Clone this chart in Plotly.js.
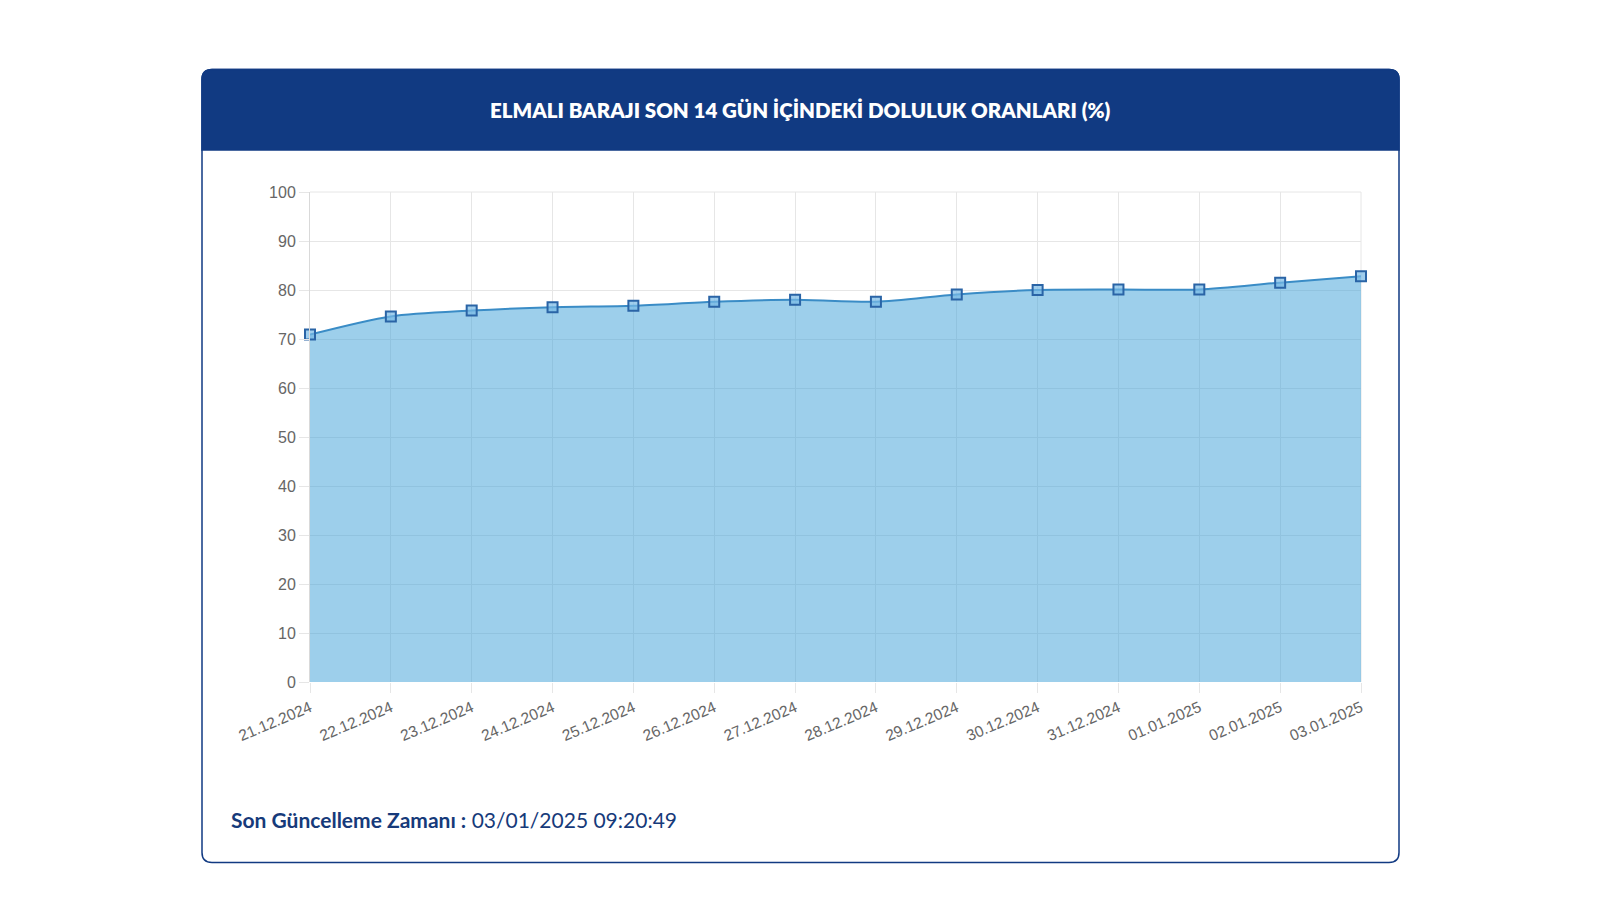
<!DOCTYPE html>
<html>
<head>
<meta charset="utf-8">
<script src="https://cdn.plot.ly/plotly-3.0.1.min.js"></script>
<style>
  html, body { margin: 0; padding: 0; background: #ffffff; }
  #chart { width: 1600px; height: 900px; }
</style>
</head>
<body>
<div id="chart"></div>
<script>
// ---- data ----
const dates = ["21.12.2024","22.12.2024","23.12.2024","24.12.2024","25.12.2024","26.12.2024","27.12.2024",
               "28.12.2024","29.12.2024","30.12.2024","31.12.2024","01.01.2025","02.01.2025","03.01.2025"];
const fillRates = [70.9, 74.6, 75.8, 76.5, 76.8, 77.6, 78.0, 77.6, 79.1, 80.0, 80.1, 80.1, 81.5, 82.8];
const yTicks = [0,10,20,30,40,50,60,70,80,90,100];
const titleText = "ELMALI BARAJI SON 14 GÜN İÇİNDEKİ DOLULUK ORANLARI (%)";
const footerLabel = "Son Güncelleme Zamanı :";
const footerValue = "03/01/2025 09:20:49";

// ---- layout helpers (pixel -> paper) ----
const W = 1600, H = 900;
const X = px => px / W;
const Y = py => 1 - py / H;
function roundRectPath(x0, y0, x1, y1, rt, rb) {
  return "M " + X(x0 + rt) + "," + Y(y0) +
    " L " + X(x1 - rt) + "," + Y(y0) +
    " Q " + X(x1) + "," + Y(y0) + " " + X(x1) + "," + Y(y0 + rt) +
    " L " + X(x1) + "," + Y(y1 - rb) +
    " Q " + X(x1) + "," + Y(y1) + " " + X(x1 - rb) + "," + Y(y1) +
    " L " + X(x0 + rb) + "," + Y(y1) +
    " Q " + X(x0) + "," + Y(y1) + " " + X(x0) + "," + Y(y1 - rb) +
    " L " + X(x0) + "," + Y(y0 + rt) +
    " Q " + X(x0) + "," + Y(y0) + " " + X(x0 + rt) + "," + Y(y0) + " Z";
}

const navy = "#113a82";

const trace = {
  type: "scatter",
  mode: "lines+markers",
  x: dates,
  y: fillRates,
  fill: "tozeroy",
  fillcolor: "rgba(60,160,215,0.5)",
  line: { color: "#3a8cc6", width: 2, shape: "spline", smoothing: 0.8 },
  marker: { symbol: "square", size: 10, color: "rgba(120,185,230,0.7)",
            line: { color: "#2a64a6", width: 2 } },
  hoverinfo: "x+y",
  cliponaxis: false
};

const layout = {
  width: W, height: H,
  margin: { l: 0, r: 0, t: 0, b: 0 },
  paper_bgcolor: "#ffffff",
  plot_bgcolor: "rgba(0,0,0,0)",
  showlegend: false,
  font: { family: "Liberation Sans, Arial, sans-serif", color: "#666666" },
  xaxis: {
    type: "category",
    domain: [X(310), X(1361)],
    range: [0, dates.length - 1],
    showgrid: true, gridcolor: "#e6e6e6", gridwidth: 1,
    ticks: "outside", ticklen: 10, tickcolor: "#e6e6e6", tickwidth: 1,
    tickangle: -23,
    tickfont: { size: 15.5, color: "#666666" },
    showline: false, zeroline: false,
    fixedrange: true
  },
  yaxis: {
    domain: [Y(682), Y(192)],
    range: [0, 100],
    tickvals: yTicks,
    showgrid: true, gridcolor: "#e6e6e6", gridwidth: 1,
    ticks: "outside", ticklen: 10, tickcolor: "#e6e6e6", tickwidth: 1,
    tickfont: { size: 16, color: "#666666" },
    showline: true, linecolor: "#d9d9d9", linewidth: 1,
    zeroline: false,
    fixedrange: true
  },
  shapes: [
    { type: "path", xref: "paper", yref: "paper", layer: "below",
      path: roundRectPath(202, 69.5, 1399, 862.5, 10, 10),
      fillcolor: "#ffffff", line: { color: navy, width: 1.5 } },
    { type: "path", xref: "paper", yref: "paper", layer: "below",
      path: roundRectPath(202, 69.5, 1399, 150, 10, 0),
      fillcolor: navy, line: { color: navy, width: 1.5 } },
    { type: "line", xref: "paper", yref: "paper", layer: "below",
      x0: X(1361), x1: X(1361), y0: Y(682), y1: Y(192),
      line: { color: "#e6e6e6", width: 1 } },
    { type: "line", xref: "paper", yref: "paper", layer: "below",
      x0: X(310), x1: X(1361), y0: Y(192), y1: Y(192),
      line: { color: "#e6e6e6", width: 1 } }
  ],
  annotations: [
    { xref: "paper", yref: "paper", x: 0.5, y: Y(110), xanchor: "center", yanchor: "middle",
      showarrow: false, text: titleText,
      font: { family: "Lato, Inter, sans-serif", size: 20.5, color: "#ffffff", weight: 800 } },
    { xref: "paper", yref: "paper", x: X(229), y: Y(819), xanchor: "left", yanchor: "middle",
      showarrow: false,
      text: "<b>" + footerLabel + "</b> " + footerValue,
      font: { family: "Lato, Inter, sans-serif", size: 21, color: "#163a7a" } }
  ]
};

Plotly.newPlot("chart", [trace], layout, { displayModeBar: false, staticPlot: true });
</script>
</body>
</html>
